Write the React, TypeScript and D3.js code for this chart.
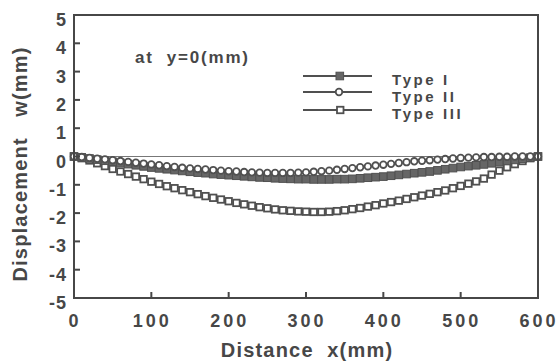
import React from "react";
import * as d3 from "d3";

const xs: number[] = d3.range(0, 601, 10);

const typeI: number[] = [
  0, -0.03, -0.07, -0.11, -0.15, -0.19, -0.23, -0.27, -0.31, -0.35,
  -0.39, -0.42, -0.45, -0.48, -0.51, -0.54, -0.57, -0.59, -0.62, -0.64,
  -0.66, -0.68, -0.7, -0.72, -0.74, -0.75, -0.77, -0.78, -0.79, -0.8,
  -0.8, -0.81, -0.81, -0.81, -0.8, -0.8, -0.79, -0.77, -0.75, -0.73,
  -0.71, -0.68, -0.65, -0.62, -0.59, -0.56, -0.53, -0.49, -0.45, -0.41,
  -0.37, -0.34, -0.31, -0.28, -0.24, -0.2, -0.16, -0.12, -0.08, -0.04, 0,
];

const typeII: number[] = [
  0, -0.02, -0.05, -0.08, -0.1, -0.13, -0.16, -0.19, -0.22, -0.25,
  -0.28, -0.31, -0.34, -0.37, -0.4, -0.42, -0.44, -0.46, -0.48, -0.5,
  -0.52, -0.53, -0.55, -0.56, -0.57, -0.58, -0.58, -0.58, -0.58, -0.57,
  -0.56, -0.54, -0.52, -0.5, -0.47, -0.44, -0.41, -0.38, -0.35, -0.32,
  -0.29, -0.26, -0.23, -0.2, -0.17, -0.15, -0.13, -0.11, -0.09, -0.07,
  -0.05, -0.04, -0.03, -0.02, -0.02, -0.01, -0.01, 0, 0, 0, 0,
];

const typeIII: number[] = [
  0, -0.06, -0.14, -0.24, -0.34, -0.44, -0.53, -0.62, -0.71, -0.8,
  -0.89, -0.97, -1.05, -1.12, -1.19, -1.26, -1.33, -1.4, -1.46, -1.52,
  -1.58, -1.64, -1.69, -1.74, -1.79, -1.83, -1.87, -1.9, -1.92, -1.94,
  -1.95, -1.96, -1.96, -1.95, -1.93, -1.9, -1.86, -1.82, -1.77, -1.72,
  -1.66, -1.61, -1.56, -1.5, -1.44, -1.38, -1.32, -1.26, -1.2, -1.12,
  -1.04, -0.96, -0.88, -0.78, -0.64, -0.5, -0.38, -0.27, -0.16, -0.06, 0,
];

const xTicks: number[] = [0, 100, 200, 300, 400, 500, 600];
const yTicks: number[] = [5, 4, 3, 2, 1, 0, -1, -2, -3, -4, -5];
const legendLabels: string[] = ["Type I", "Type II", "Type III"];

const INK = "#474747";
const MARK = "#505050";
const FONT = "'Liberation Sans', Arial, Helvetica, sans-serif";

export default function App() {
  const x = d3.scaleLinear().domain([0, 600]).range([74, 538]);
  const y = d3.scaleLinear().domain([-5, 5]).range([298, 15]);

  const sq = 6.5;
  const circleR = 3.3;

  const legendY = [76, 92, 110];
  const legendTextY = [85, 102, 119];

  return (
    <svg
      width={559}
      height={362}
      style={{ position: "absolute", left: 0, top: 0, background: "#fff" }}
      fontFamily={FONT}
      fontWeight="bold"
    >
      <rect x={0} y={0} width={559} height={362} fill="#fff" />
      {/* zero line */}
      <line x1={x(0)} x2={x(600)} y1={y(0)} y2={y(0)} stroke="#777" strokeWidth={1} />

      {/* Type III open squares */}
      {xs.map((v, i) => (
        <rect
          key={"c" + i}
          x={x(v) - sq / 2}
          y={y(typeIII[i]) - sq / 2}
          width={sq}
          height={sq}
          fill="#fff"
          stroke={MARK}
          strokeWidth={1.8}
        />
      ))}
      {/* Type I filled squares */}
      {xs.map((v, i) => (
        <rect
          key={"a" + i}
          x={x(v) - 3.8}
          y={y(typeI[i]) - 3.8}
          width={7.6}
          height={7.6}
          fill="#666"
          stroke={MARK}
          strokeWidth={1}
        />
      ))}
      {/* Type II open circles */}
      {xs.map((v, i) => (
        <circle
          key={"b" + i}
          cx={x(v)}
          cy={y(typeII[i])}
          r={circleR}
          fill="#fff"
          stroke={MARK}
          strokeWidth={1.8}
        />
      ))}

      {/* frame */}
      <rect
        x={x(0)}
        y={y(5)}
        width={x(600) - x(0)}
        height={y(-5) - y(5)}
        fill="none"
        stroke={INK}
        strokeWidth={2}
      />

      {/* y ticks */}
      {yTicks.map((t) => (
        <g key={"yt" + t}>
          <line x1={x(0)} x2={x(0) + 6} y1={y(t)} y2={y(t)} stroke={INK} strokeWidth={2} />
          <text
            x={67}
            y={y(t) + 11}
            textAnchor="end"
            fontSize={18}
            fill={INK}
            letterSpacing={1}
          >
            {t}
          </text>
        </g>
      ))}

      {/* x ticks */}
      {xTicks.map((t) => (
        <g key={"xt" + t}>
          <line x1={x(t)} x2={x(t)} y1={y(-5)} y2={y(-5) - 6} stroke={INK} strokeWidth={2} />
          <text
            x={x(t) + 1}
            y={327}
            textAnchor="middle"
            fontSize={18}
            fill={INK}
            letterSpacing={3}
          >
            {t}
          </text>
        </g>
      ))}

      {/* axis titles */}
      <text
        x={307}
        y={357}
        textAnchor="middle"
        fontSize={20}
        fill={INK}
        letterSpacing={1.2}
        style={{ whiteSpace: "pre" }}
      >
        {"Distance  x(mm)"}
      </text>
      <text
        transform={`translate(27,164) rotate(-90)`}
        textAnchor="middle"
        fontSize={20}
        fill={INK}
        letterSpacing={1.2}
        style={{ whiteSpace: "pre" }}
      >
        {"Displacement   w(mm)"}
      </text>

      {/* annotation */}
      <text
        x={135}
        y={63}
        fontSize={17}
        fill={INK}
        letterSpacing={1.8}
        style={{ whiteSpace: "pre" }}
      >
        {"at  y=0(mm)"}
      </text>

      {/* legend */}
      {legendLabels.map((lab, i) => (
        <g key={lab}>
          <line x1={303} x2={372} y1={legendY[i]} y2={legendY[i]} stroke={MARK} strokeWidth={1.8} />
          {i === 0 && (
            <rect x={336} y={legendY[i] - 3.8} width={7.6} height={7.6} fill="#666" stroke={MARK} />
          )}
          {i === 1 && (
            <circle cx={339} cy={legendY[i]} r={3.3} fill="#fff" stroke={MARK} strokeWidth={1.8} />
          )}
          {i === 2 && (
            <rect x={337} y={legendY[i] - 3.25} width={6.5} height={6.5} fill="#fff" stroke={MARK} strokeWidth={1.8} />
          )}
          <text x={392} y={legendTextY[i]} fontSize={15} fill={INK} letterSpacing={2.6}>
            {lab}
          </text>
        </g>
      ))}
    </svg>
  );
}
